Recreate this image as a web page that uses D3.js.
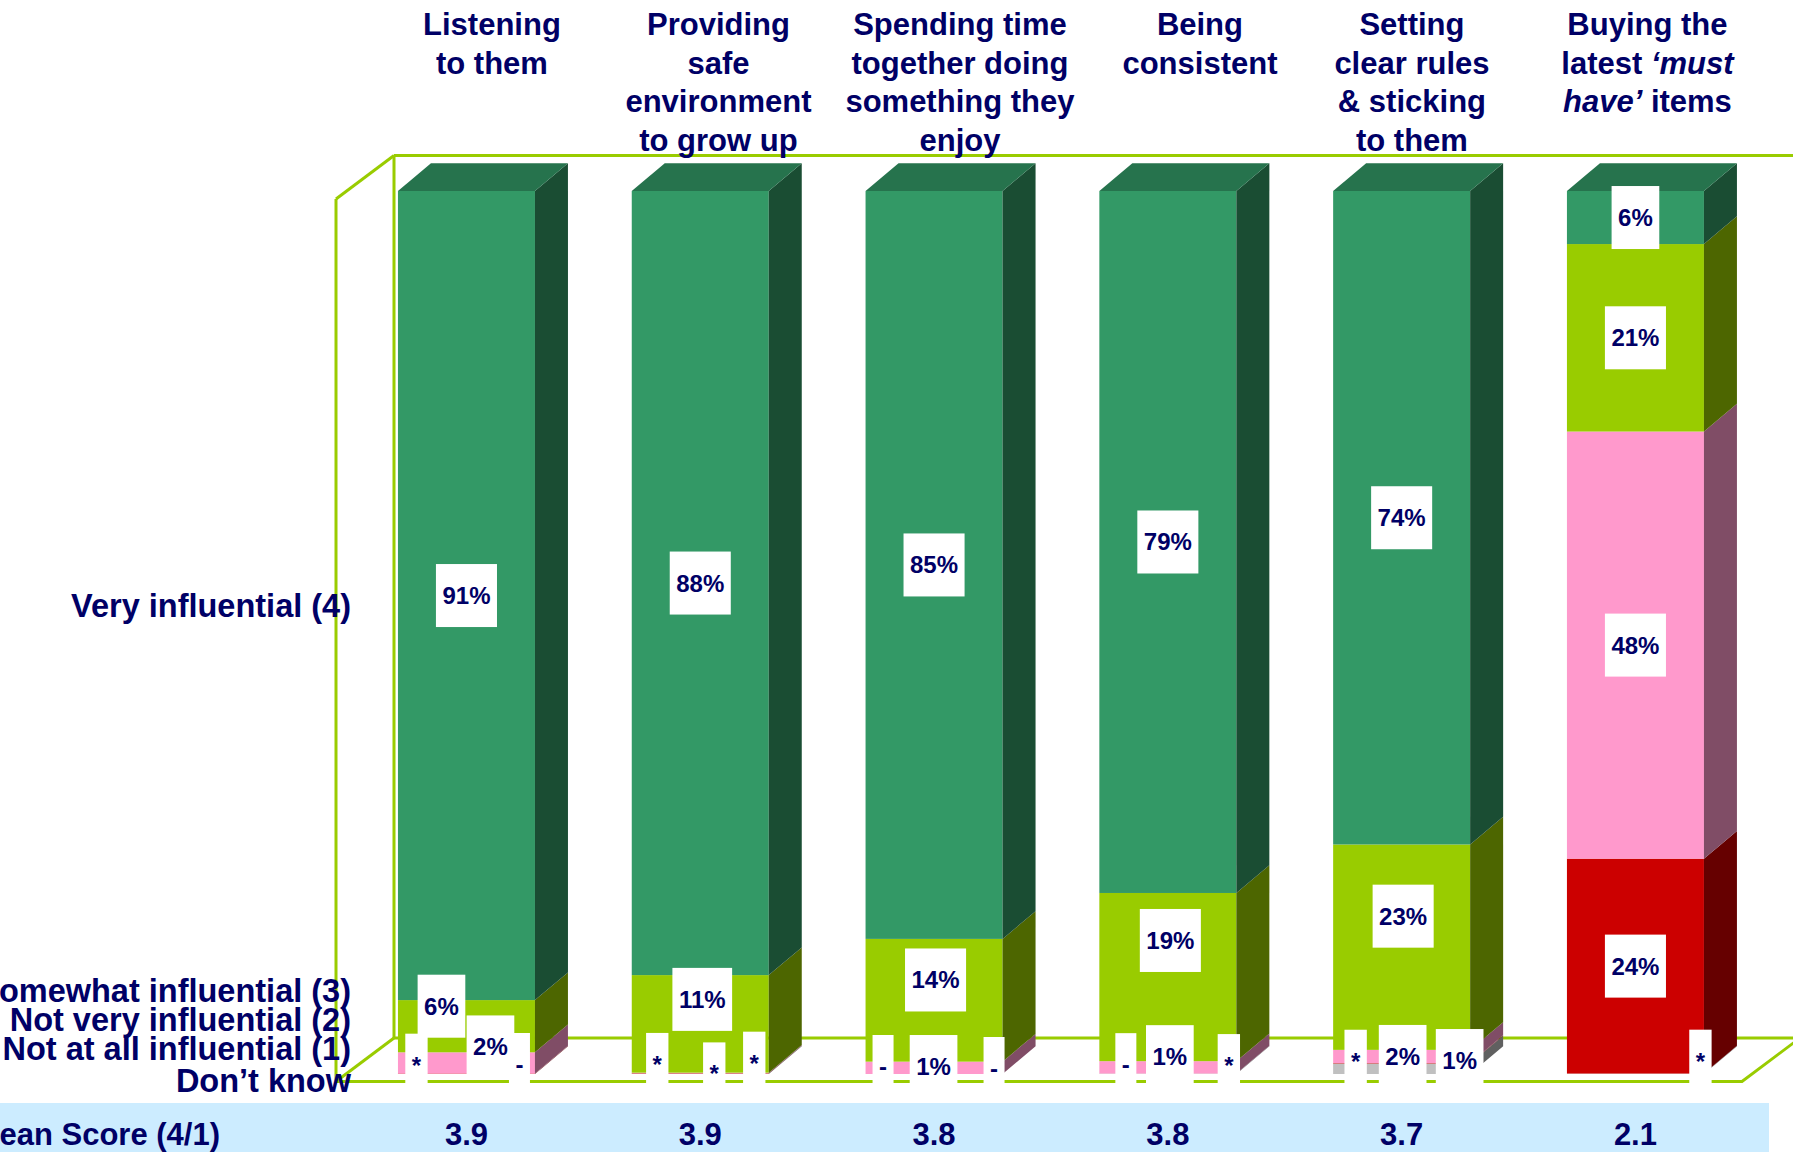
<!DOCTYPE html>
<html><head><meta charset="utf-8">
<script src="https://cdn.jsdelivr.net/npm/d3@7"></script>
<style>html,body{margin:0;padding:0;background:#fff;overflow:hidden}</style>
</head><body><svg id="chart" width="1793" height="1152"></svg>
<script>
// ---------- DATA ----------
const categories = ["Listening to them", "Providing safe environment to grow up",
  "Spending time together doing something they enjoy", "Being consistent",
  "Setting clear rules & sticking to them", "Buying the latest ‘must have’ items"];
// category label lines: each line = list of [text, italic]
const categoryLines = [
  [[["Listening", false]], [["to them", false]]],
  [[["Providing", false]], [["safe", false]], [["environment", false]], [["to grow up", false]]],
  [[["Spending time", false]], [["together doing", false]], [["something they", false]], [["enjoy", false]]],
  [[["Being", false]], [["consistent", false]]],
  [[["Setting", false]], [["clear rules", false]], [["& sticking", false]], [["to them", false]]],
  [[["Buying the", false]], [["latest ", false], ["‘must", true]], [["have’", true], [" items", false]]]
];
const seriesKeys = ["dk", "notAtAll", "notVery", "somewhat", "very"];
const seriesNames = ["Don’t know", "Not at all influential (1)", "Not very influential (2)",
  "Somewhat influential (3)", "Very influential (4)"];
const veryInfluential     = [91.4, 88.4, 84.7, 79.3, 74.45, 6.0];
const somewhatInfluential = [5.9, 11.0, 13.9, 19.0, 23.4, 21.2];
const notVeryInfluential  = [2.4, 0.05, 1.4, 1.4, 1.5, 48.3];
const notAtAllInfluential = [0.05, 0.05, 0, 0, 0.05, 24.3];
const dontKnow            = [0, 0.05, 0, 0.05, 1.2, 0.05];
const meanScores = [3.9, 3.9, 3.8, 3.8, 3.7, 2.1];
const meanLabel = "Mean Score (4/1)";

// ---------- STYLE / LAYOUT ----------
const W = 1793, H = 1152;
const navy = "#000066";
const frameColor = "#99CC00";
const frontColors = {dk: "#C0C0C0", notAtAll: "#CC0000", notVery: "#FF99CC", somewhat: "#99CC00", very: "#339966"};
const sideColors  = {dk: "#606060", notAtAll: "#660000", notVery: "#804D66", somewhat: "#4D6600", very: "#1A4D33"};
const topColor = "#26734D";
const depthX = 33, depthY = 27.7;           // bar depth
const font = "'Liberation Sans', Arial, sans-serif";
// manual label nudges (dx from bar centre, dy from segment centre)
const labelNudge = {
  very:     [[0,0],[0,0],[0,0],[0,0],[0,0],[0,0]],
  somewhat: [[-25,-20],[2,-24.5],[1.5,-20.3],[2.5,-36.6],[1.5,-31],[0,0]],
  notVery:  [[24,-16],[14,1],[-0.5,-1.3],[2,-10.7],[1,0],[0,0]],
  notAtAll: [[-50,-8.6],[-43,-8.9],[-51,-7.5],[-42,-8.9],[-46,-2],[0,0]],
  dk:       [[53,-9.5],[54,-10.6],[60,-5.5],[61,-8.2],[58,-8.2],[65,-12.6]]
};
const catNudge = [25.5, 18.2, 25.9, 32.1, 10.3, 12];

const svg = d3.select("#chart");

const table = categories.map((c, i) => ({
  cat: c, very: veryInfluential[i], somewhat: somewhatInfluential[i],
  notVery: notVeryInfluential[i], notAtAll: notAtAllInfluential[i], dk: dontKnow[i]
}));
const stacked = d3.stack().keys(seriesKeys).offset(d3.stackOffsetExpand)(table);

const x = d3.scaleBand().domain(categories).range([351.2, 1750.7]).paddingInner(0.414).paddingOuter(0.2);
const y = d3.scaleLinear().domain([0, 1]).range([1074, 191]);

// ---------- FRAME (walls & floor) ----------
const fx0 = 336, fdx = 58, fdy = 43.5;
const floorFront = y(0) + 7.5, wallTopFront = y(1) + 8;
const fg = svg.append("g").attr("fill", "none").attr("stroke", frameColor).attr("stroke-width", 3);
const seg = (a, b) => fg.append("line").attr("x1", a[0]).attr("y1", a[1]).attr("x2", b[0]).attr("y2", b[1]);
seg([fx0 + fdx, wallTopFront - fdy], [W + 10, wallTopFront - fdy]);
seg([fx0 + fdx, wallTopFront - fdy], [fx0 + fdx, floorFront - fdy]);
seg([fx0, wallTopFront], [fx0 + fdx, wallTopFront - fdy]);
seg([fx0, wallTopFront], [fx0, floorFront]);
seg([fx0, floorFront], [fx0 + fdx, floorFront - fdy]);
seg([fx0 + fdx, floorFront - fdy], [W + 10, floorFront - fdy]);
fg.append("polyline").attr("points", [[fx0, floorFront], [1742, floorFront], [1742 + fdx, floorFront - fdy]].map(p => p.join(",")).join(" "));

// ---------- BARS ----------
const bars = svg.append("g");
stacked.forEach(layer => {
  const k = layer.key;
  layer.forEach(d => {
    const xl = x(d.data.cat), xr = xl + x.bandwidth();
    const y0 = y(d[0]), y1 = y(d[1]);
    if (y0 - y1 <= 0) return;
    bars.append("rect").attr("x", xl).attr("y", y1).attr("width", x.bandwidth()).attr("height", y0 - y1)
      .attr("fill", frontColors[k]);
    bars.append("polygon").attr("points",
      [[xr, y1], [xr + depthX, y1 - depthY], [xr + depthX, y0 - depthY], [xr, y0]].map(p => p.join(",")).join(" "))
      .attr("fill", sideColors[k]);
  });
});
// top faces
categories.forEach(c => {
  const xl = x(c), xr = xl + x.bandwidth(), yt = y(1);
  bars.append("polygon").attr("points",
    [[xl, yt], [xl + depthX, yt - depthY], [xr + depthX, yt - depthY], [xr, yt]].map(p => p.join(",")).join(" "))
    .attr("fill", topColor);
});

// ---------- DATA LABELS ----------
const fmt = v => v === 0 ? "-" : (v < 0.5 ? "*" : Math.round(v) + "%");
const lg = svg.append("g");
const order = ["very", "somewhat", "notVery", "notAtAll", "dk"];
order.forEach(k => {
  const layer = stacked.find(l => l.key === k);
  layer.forEach((d, i) => {
    const cx = x(d.data.cat) + x.bandwidth() / 2 + labelNudge[k][i][0];
    const cy = (y(d[0]) + y(d[1])) / 2 + labelNudge[k][i][1];
    const g = lg.append("g");
    const r = g.append("rect").attr("fill", "#fff");
    const t = g.append("text").attr("x", cx).attr("y", cy + 8.5).attr("text-anchor", "middle")
      .attr("font-family", font).attr("font-weight", "bold").attr("font-size", 24).attr("fill", navy)
      .text(fmt(d.data[k]));
    const tw = t.node().getComputedTextLength();
    r.attr("x", cx - tw / 2 - 6.5).attr("y", cy - 31.5).attr("width", tw + 13).attr("height", 63);
  });
});

// ---------- CATEGORY LABELS ----------
const cg = svg.append("g").attr("font-family", font).attr("font-weight", "bold").attr("font-size", 31).attr("fill", navy);
categories.forEach((c, i) => {
  const cx = x(c) + x.bandwidth() / 2 + catNudge[i];
  categoryLines[i].forEach((line, j) => {
    const t = cg.append("text").attr("x", cx).attr("y", 35 + j * 38.6).attr("text-anchor", "middle");
    line.forEach(([txt, it]) => t.append("tspan").attr("font-style", it ? "italic" : "normal").text(txt));
  });
});

// ---------- LEGEND LABELS (left) ----------
const legendBaselines = [1092, 1060, 1031, 1001.7, 617];
const leg = svg.append("g").attr("font-family", font).attr("font-weight", "bold").attr("font-size", 32.5).attr("fill", navy);
seriesNames.forEach((n, i) => {
  leg.append("text").attr("x", 351).attr("y", legendBaselines[i]).attr("text-anchor", "end").text(n);
});

// ---------- MEAN SCORE ROW ----------
svg.append("rect").attr("x", 0).attr("y", 1103).attr("width", 1769).attr("height", H - 1103).attr("fill", "#CCECFF");
const mg = svg.append("g").attr("font-family", font).attr("font-weight", "bold").attr("font-size", 31).attr("fill", navy);
mg.append("text").attr("x", 220).attr("y", 1145).attr("text-anchor", "end").text(meanLabel);
categories.forEach((c, i) => {
  mg.append("text").attr("x", x(c) + x.bandwidth() / 2).attr("y", 1145).attr("text-anchor", "middle")
    .text(meanScores[i].toFixed(1));
});
</script></body></html>
